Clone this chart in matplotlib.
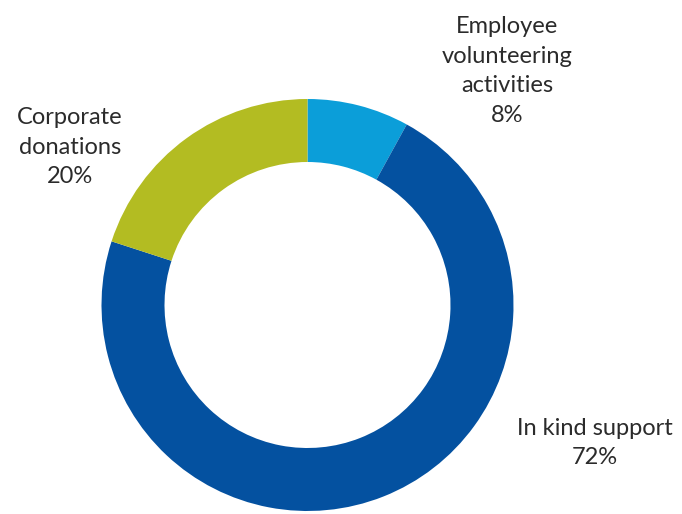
import matplotlib
matplotlib.use("Agg")
import matplotlib.pyplot as plt

categories = ["Employee\nvolunteering\nactivities", "In kind support", "Corporate\ndonations"]
shares = [8, 72, 20]
colors = ["#0B9ED9", "#0451A0", "#B3BC22"]

fig = plt.figure(figsize=(6.82, 5.14), dpi=100)
ax = fig.add_axes([0, 0, 1, 1])

cx, cy, r = 307.5, 514 - 305, 206
ax.pie(shares, colors=colors, startangle=90, counterclock=False,
       center=(cx, cy), radius=r,
       wedgeprops=dict(width=63, linewidth=0))

ax.set_xlim(0, 682)
ax.set_ylim(0, 514)
ax.set_aspect("equal")
ax.axis("off")

label_pos = [(507, 514 - 71), (595, 514 - 443), (70, 514 - 147)]
for name, val, (x, y) in zip(categories, shares, label_pos):
    ax.text(x, y, f"{name}\n{val}%", ha="center", va="center",
            fontsize=17, family="Lato", color="#2b2b2b", linespacing=1.5)

fig.savefig("out.png", dpi=100)
